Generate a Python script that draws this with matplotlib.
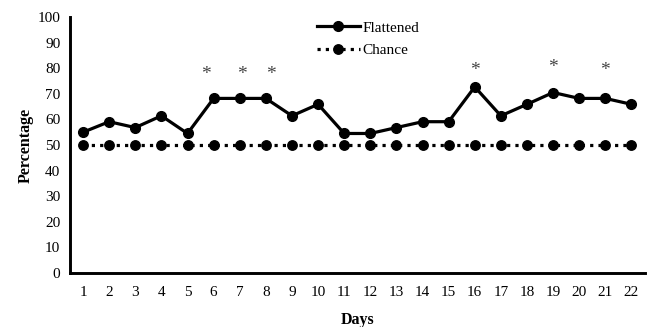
import matplotlib
matplotlib.use("Agg")
import matplotlib.pyplot as plt

days = list(range(1, 23))
flattened = [55.0, 59.1, 56.8, 61.4, 54.5, 68.2, 68.2, 68.2, 61.4, 65.9, 54.5,
             54.5, 56.8, 59.1, 59.1, 72.7, 61.4, 65.9, 70.5, 68.2, 68.2, 65.9]
chance = [50] * 22
star_x = [5.7, 7.1, 8.2, 16, 19, 21]
star_y = [79.3, 79.3, 79.3, 80.9, 82.0, 80.9]

plt.rcParams['font.family'] = ['Liberation Serif', 'DejaVu Serif']

fig = plt.figure(figsize=(6.47, 3.27), dpi=100)
ax = fig.add_axes([70/647, 54/327, 574.5/647, 256/327])

ax.plot(days, flattened, color='black', lw=2.3, marker='o', ms=7, label='Flattened')
ax.plot(days, chance, color='black', lw=2.3, ls=(0, (1, 1.6)), marker='o', ms=6.8,
        label='Chance')
for x, y in zip(star_x, star_y):
    ax.text(x, y - 1.8, '*', ha='center', va='center', fontsize=14, color='#444444')

ax.set_xlim(0.5, 22.5)
ax.set_ylim(0, 100)
ax.set_xticks(days)
ax.set_yticks(range(0, 101, 10))
ax.tick_params(axis='both', length=0, labelsize=11)
ax.tick_params(axis='x', pad=9)
ax.tick_params(axis='y', pad=7)
for s in ['top', 'right']:
    ax.spines[s].set_visible(False)
for s in ['left', 'bottom']:
    ax.spines[s].set_linewidth(2.1)

ax.set_xlabel('Days', fontsize=11.5, fontweight='bold', labelpad=10)
ax.set_ylabel('Percentage', fontsize=11.5, fontweight='bold', labelpad=3)

ax.legend(loc='upper left', bbox_to_anchor=(0.43, 0.985), frameon=False,
          fontsize=11, handlelength=2.8, handletextpad=0.15, labelspacing=0.6,
          borderpad=0, borderaxespad=0)

fig.savefig('out.png', dpi=100)
